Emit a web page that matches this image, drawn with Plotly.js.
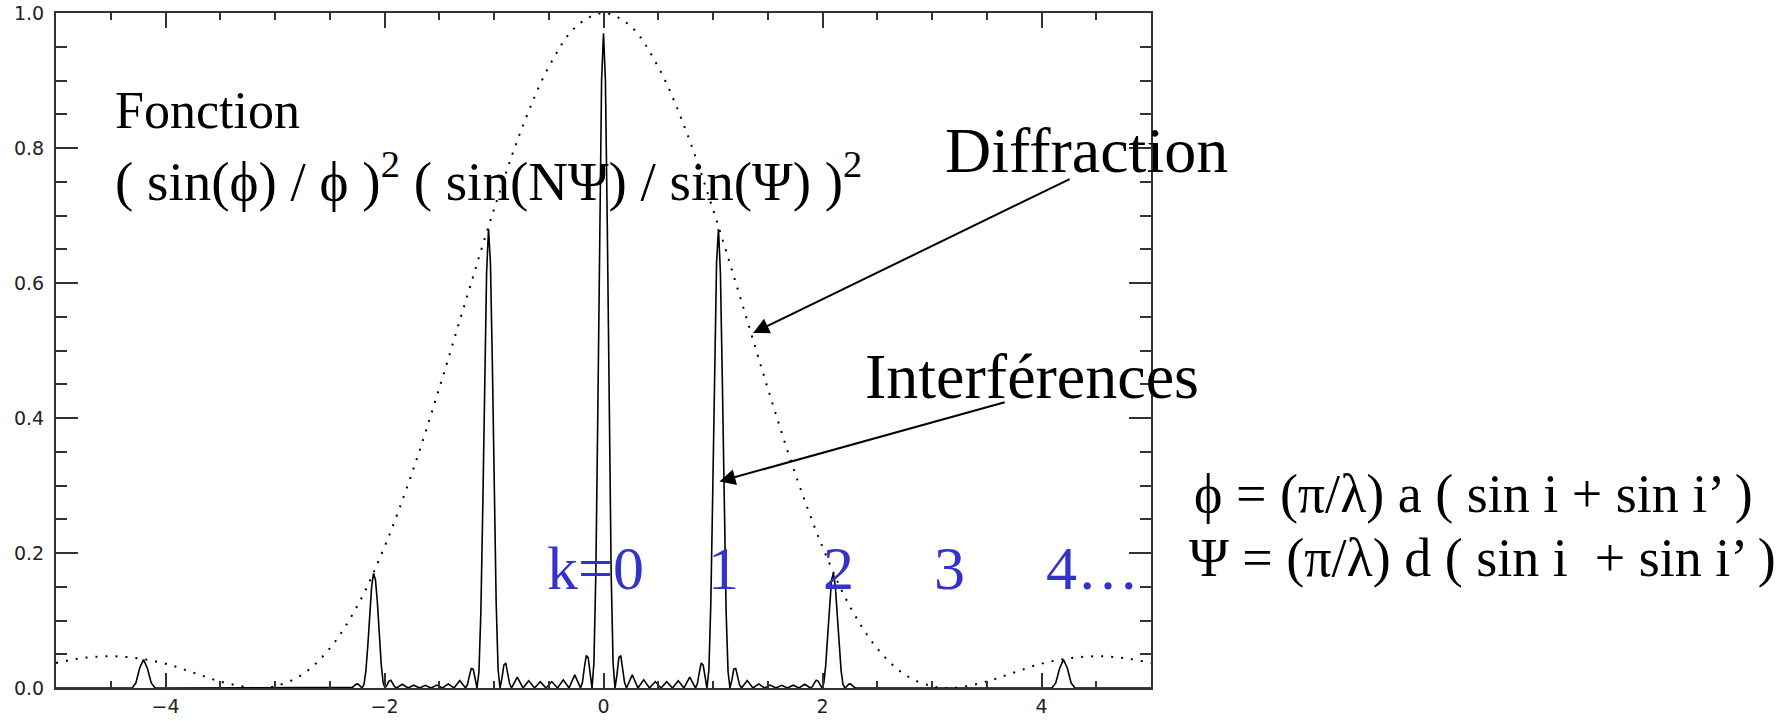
<!DOCTYPE html>
<html>
<head>
<meta charset="utf-8">
<script src="https://cdn.plot.ly/plotly-3.0.1.min.js"></script>
<style>html,body{margin:0;padding:0;background:#fff;}#chart{width:1789px;height:721px;}</style>
</head>
<body>
<div id="chart"></div>
<script>
// Diffraction envelope (dotted)
const envX = [-5, -4.75, -4.5, -4.25, -4, -3.75, -3.5, -3.25, -3.15, -3, -2.75, -2.5, -2.25, -2, -1.75, -1.5, -1.25, -1, -0.75, -0.5, -0.25,
  0, 0.25, 0.5, 0.75, 1, 1.25, 1.5, 1.75, 2, 2.25, 2.5, 2.75, 3, 3.15, 3.25, 3.5, 3.75, 4, 4.25, 4.5, 4.75, 5];
const envY = [0.037, 0.0445, 0.047, 0.044, 0.036, 0.023, 0.0096, 0.001, 0, 0.0025, 0.020, 0.0586, 0.121, 0.209, 0.318, 0.444, 0.578, 0.709, 0.827, 0.920, 0.980,
  1.0, 0.980, 0.920, 0.827, 0.709, 0.578, 0.444, 0.318, 0.209, 0.121, 0.0586, 0.020, 0.0025, 0, 0.001, 0.0096, 0.023, 0.036, 0.044, 0.047, 0.0445, 0.037];

// Interference pattern (solid) — negative side
const intXNeg = [-5.0, -4.6, -4.305, -4.27, -4.235, -4.2, -4.165, -4.13, -4.095, -3.99, -3.6, -3.15, -2.7,
  -2.31, -2.2925, -2.275, -2.2575, -2.24, -2.2225, -2.205, -2.1875, -2.17, -2.1525, -2.135, -2.1175, -2.1, -2.0825, -2.065, -2.0475, -2.03, -2.0125, -1.995, -1.9775, -1.96, -1.9425, -1.925, -1.9075,
  -1.89, -1.8375, -1.785, -1.7325, -1.68, -1.6275, -1.575, -1.5225, -1.47, -1.4175, -1.365, -1.3125,
  -1.26, -1.2425, -1.225, -1.2075, -1.19, -1.1725, -1.155, -1.1375, -1.12, -1.1025, -1.085, -1.0675, -1.05, -1.0325, -1.015, -0.9975, -0.98, -0.9625, -0.945, -0.9275, -0.91, -0.8925, -0.875, -0.8575,
  -0.84, -0.7875, -0.735, -0.6825, -0.63, -0.5775, -0.525, -0.4725, -0.42, -0.3675, -0.315, -0.2625,
  -0.21, -0.1925, -0.175, -0.1575, -0.14, -0.1225, -0.105, -0.0875, -0.07, -0.0525, -0.035, -0.0175];
const intYNeg = [0, 0, 0, 0.0077, 0.030, 0.042, 0.029, 0.0074, 0, 0, 0, 0, 0,
  0, 0.0009, 0.0034, 0.0058, 0.0057, 0.0026, 0, 0.0053, 0.0255, 0.0625, 0.108, 0.15, 0.17, 0.16, 0.127, 0.078, 0.035, 0.0077, 0, 0.0042, 0.0102, 0.0114, 0.0072, 0.0021,
  0, 0.0055, 0, 0.0041, 0, 0.0039, 0, 0.0044, 0, 0.0061, 0, 0.011,
  0, 0.005, 0.018, 0.029, 0.028, 0.012, 0, 0.024, 0.112, 0.268, 0.458, 0.616, 0.68, 0.63, 0.48, 0.29, 0.125, 0.027, 0, 0.0145, 0.034, 0.037, 0.023, 0.0065,
  0, 0.016, 0, 0.0107, 0, 0.0092, 0, 0.0095, 0, 0.012, 0, 0.0195,
  0, 0.008, 0.03, 0.048, 0.045, 0.019, 0, 0.037, 0.17, 0.40, 0.68, 0.90];

// Interference pattern — positive side (from the central maximum)
const intXPos = [0, 0.0175, 0.035, 0.0525, 0.07, 0.0875, 0.105, 0.1225, 0.14, 0.1575, 0.175, 0.1925, 0.21,
  0.2625, 0.315, 0.3675, 0.42, 0.4725, 0.525, 0.5775, 0.63, 0.6825, 0.735, 0.7875, 0.84,
  0.8575, 0.875, 0.8925, 0.91, 0.9275, 0.945, 0.9625, 0.98, 0.9975, 1.015, 1.0325, 1.05, 1.0675, 1.085, 1.1025, 1.12, 1.1375, 1.155, 1.1725, 1.19, 1.2075, 1.225, 1.2425, 1.26,
  1.3125, 1.365, 1.4175, 1.47, 1.5225, 1.575, 1.6275, 1.68, 1.7325, 1.785, 1.8375, 1.89,
  1.9075, 1.925, 1.9425, 1.96, 1.9775, 1.995, 2.0125, 2.03, 2.0475, 2.065, 2.0825, 2.1, 2.1175, 2.135, 2.1525, 2.17, 2.1875, 2.205, 2.2225, 2.24, 2.2575, 2.275, 2.2925, 2.31,
  2.7, 3.15, 3.6, 3.99,
  4.095, 4.13, 4.165, 4.2, 4.235, 4.27, 4.305,
  4.6, 5.0];
const intYPos = [0.97, 0.90, 0.68, 0.40, 0.17, 0.037, 0, 0.019, 0.045, 0.048, 0.03, 0.008, 0,
  0.0195, 0, 0.012, 0, 0.0095, 0, 0.0092, 0, 0.0107, 0, 0.016, 0,
  0.0065, 0.023, 0.037, 0.034, 0.0145, 0, 0.027, 0.125, 0.29, 0.48, 0.63, 0.68, 0.616, 0.458, 0.268, 0.112, 0.024, 0, 0.012, 0.028, 0.029, 0.018, 0.005, 0,
  0.011, 0, 0.0061, 0, 0.0044, 0, 0.0039, 0, 0.0041, 0, 0.0055, 0,
  0.0021, 0.0072, 0.0114, 0.0102, 0.0042, 0, 0.0077, 0.035, 0.078, 0.127, 0.16, 0.17, 0.15, 0.108, 0.0625, 0.0255, 0.0053, 0, 0.0026, 0.0057, 0.0058, 0.0034, 0.0009, 0,
  0, 0, 0, 0,
  0, 0.0074, 0.029, 0.042, 0.030, 0.0077, 0,
  0, 0];

// Order labels
const orderLabels = ['k=0', '1', '2', '3', '4…'];
const orderLabelX = [-0.07, 1.10, 2.15, 3.16, 4.47];

const xTickVals = [-4, -2, 0, 2, 4];
const yTickVals = [0, 0.2, 0.4, 0.6, 0.8, 1.0];

const serif = 'Liberation Serif, Times New Roman, serif';
const blue = 'rgb(51,51,204)';

const traces = [
  {x: envX, y: envY, mode: 'lines', line: {color: '#000', width: 2, dash: '2px,8px', shape: 'spline', smoothing: 1}, hoverinfo: 'skip'},
  {x: intXNeg.concat(intXPos), y: intYNeg.concat(intYPos), mode: 'lines', line: {color: '#000', width: 1.6}, hoverinfo: 'skip'}
];

const annotations = [
  {x: -4.48, y: 0.855, xref: 'x', yref: 'y', text: 'Fonction', showarrow: false, xanchor: 'left', yanchor: 'middle', font: {family: serif, size: 52, color: '#000'}},
  {x: -4.48, y: 0.757, xref: 'x', yref: 'y', text: '( sin(ϕ) / ϕ )<sup>2</sup> ( sin(NΨ) / sin(Ψ) )<sup>2</sup>', showarrow: false, xanchor: 'left', yanchor: 'middle', font: {family: serif, size: 55, color: '#000'}},
  {x: 4.41, y: 0.797, xref: 'x', yref: 'y', text: 'Diffraction', showarrow: false, xanchor: 'center', yanchor: 'middle', font: {family: serif, size: 64, color: '#000'}},
  {x: 3.91, y: 0.461, xref: 'x', yref: 'y', text: 'Interférences', showarrow: false, xanchor: 'center', yanchor: 'middle', font: {family: serif, size: 64, color: '#000'}},
  {x: 1.366, y: 0.526, ax: 4.271, ay: 0.755, xref: 'x', yref: 'y', axref: 'x', ayref: 'y', text: '', showarrow: true, arrowhead: 2, arrowsize: 1.6, arrowwidth: 2, arrowcolor: '#000', standoff: 0},
  {x: 1.059, y: 0.306, ax: 3.678, ay: 0.424, xref: 'x', yref: 'y', axref: 'x', ayref: 'y', text: '', showarrow: true, arrowhead: 2, arrowsize: 1.6, arrowwidth: 2, arrowcolor: '#000', standoff: 0},
  {x: 1.0374, y: 0.287, xref: 'paper', yref: 'paper', text: 'ϕ = (π/λ) a ( sin i + sin i’ )', showarrow: false, xanchor: 'left', yanchor: 'middle', font: {family: serif, size: 54, color: '#000'}},
  {x: 1.0329, y: 0.193, xref: 'paper', yref: 'paper', text: 'Ψ = (π/λ) d ( sin i \u00a0+ sin i’ )', showarrow: false, xanchor: 'left', yanchor: 'middle', font: {family: serif, size: 54, color: '#000'}}
];
orderLabels.forEach((t, i) => {
  annotations.push({x: orderLabelX[i], y: 0.178, xref: 'x', yref: 'y', text: t, showarrow: false, xanchor: 'center', yanchor: 'middle', font: {family: serif, size: 62, color: blue}});
});

const layout = {
  width: 1789, height: 721,
  margin: {l: 56, r: 638, t: 13, b: 33, pad: 0},
  paper_bgcolor: '#fff', plot_bgcolor: '#fff',
  showlegend: false,
  xaxis: {
    range: [-5, 5], showgrid: false, zeroline: false,
    showline: true, linecolor: '#333', linewidth: 2, mirror: 'ticks',
    ticks: 'inside', tickvals: xTickVals, ticklen: 15, tickwidth: 2, tickcolor: '#333',
    minor: {dtick: 0.5, ticks: 'inside', ticklen: 7, tickwidth: 2, tickcolor: '#333', showgrid: false},
    tickfont: {family: 'DejaVu Sans, sans-serif', size: 19, color: '#222'},
    ticklabelstandoff: 0
  },
  yaxis: {
    range: [0, 1], showgrid: false, zeroline: false,
    showline: true, linecolor: '#333', linewidth: 2, mirror: 'ticks',
    ticks: 'inside', tickvals: yTickVals, ticklen: 22, tickwidth: 2, tickcolor: '#333',
    minor: {dtick: 0.05, ticks: 'inside', ticklen: 11, tickwidth: 2, tickcolor: '#333', showgrid: false},
    tickformat: '.1f',
    tickfont: {family: 'DejaVu Sans, sans-serif', size: 19, color: '#222'},
    ticklabelstandoff: 6
  },
  annotations: annotations
};

Plotly.newPlot('chart', traces, layout, {staticPlot: true, displayModeBar: false});
</script>
</body>
</html>
